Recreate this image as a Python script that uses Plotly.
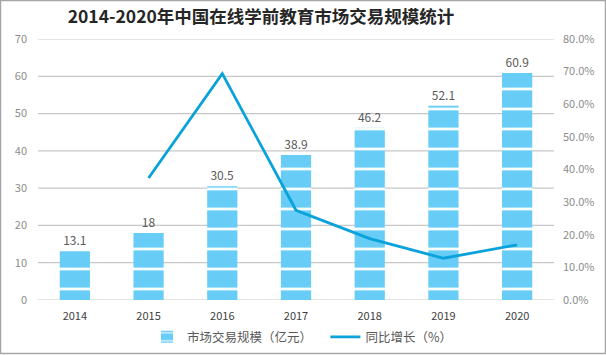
import plotly.graph_objects as go

years = ["2014", "2015", "2016", "2017", "2018", "2019", "2020"]
market = [13.1, 18, 30.5, 38.9, 46.2, 52.1, 60.9]
growth_years = ["2015", "2016", "2017", "2018", "2019", "2020"]
growth = [0.374, 0.694, 0.275, 0.188, 0.128, 0.169]
left_ticks = [0, 10, 20, 30, 40, 50, 60, 70]
right_ticks = [0, 0.1, 0.2, 0.3, 0.4, 0.5, 0.6, 0.7, 0.8]

FONT = "Noto Sans CJK SC, Liberation Sans, sans-serif"
BAR = "#67CDF6"
LINE = "#0AA2DA"

fig = go.Figure()
fig.add_trace(go.Bar(
    x=years, y=market, name="市场交易规模（亿元）   ",
    width=0.41,
    marker=dict(color=BAR, line=dict(width=0),
                pattern=dict(shape="-", size=20, fgcolor="white",
                             fgopacity=0.95, solidity=0.14)),
    text=[f"{v:g}" for v in market], textposition="outside",
    textfont=dict(size=12, color="#595959", family=FONT),
    cliponaxis=False,
))
fig.add_trace(go.Scatter(
    x=growth_years, y=growth, name="同比增长（%）", yaxis="y2",
    mode="lines", line=dict(color=LINE, width=2.8),
))

grid_shapes = [dict(type="line", xref="paper", yref="y", x0=0, x1=1, y0=t, y1=t,
                    line=dict(color="#C8C8C8", width=1.2), layer="below")
               for t in left_ticks]
border = dict(type="rect", xref="paper", yref="paper",
              x0=-37.5/516, x1=1+51.5/516, y0=-53.5/261, y1=1+38.5/261,
              line=dict(color="#A6A6A6", width=1.5), layer="above")

fig.update_layout(
    width=606, height=355,
    margin=dict(l=38, r=52, t=39, b=55, autoexpand=False),
    paper_bgcolor="white", plot_bgcolor="white",
    font=dict(family=FONT, color="#595959", size=11),
    title=dict(text="<b>2014-2020年中国在线学前教育市场交易规模统计</b>",
               xref="container", x=261/606, xanchor="center",
               yref="container", y=1-17/355, yanchor="middle",
               font=dict(size=17.5, color="#262626", family=FONT)),
    xaxis=dict(type="category", showgrid=False, showline=False, ticks="",
               ticklabelstandoff=8, automargin=False,
               tickfont=dict(size=11, color="#404040")),
    yaxis=dict(range=[0, 70], tickvals=left_ticks, showgrid=False, automargin=False,
               zeroline=False, showline=False,
               ticks="", ticklabelstandoff=10, tickfont=dict(size=11, color="#8C8C8C")),
    yaxis2=dict(range=[0, 0.8], tickvals=right_ticks, tickformat=".1%", automargin=False,
                overlaying="y", side="right", showgrid=False, zeroline=False,
                showline=False, ticks="", ticklabelstandoff=8,
                tickfont=dict(size=11, color="#8C8C8C")),
    bargap=0.59,
    showlegend=True,
    legend=dict(orientation="h", x=0.5 + 6/516, xanchor="center", y=-0.085, yanchor="top",
                font=dict(size=12.5, color="#595959"), itemwidth=30,
                traceorder="normal"),
    shapes=grid_shapes + [border],
)

fig.write_html("out.html", config={"displayModeBar": False},
               post_script="document.body.style.margin='0';")
